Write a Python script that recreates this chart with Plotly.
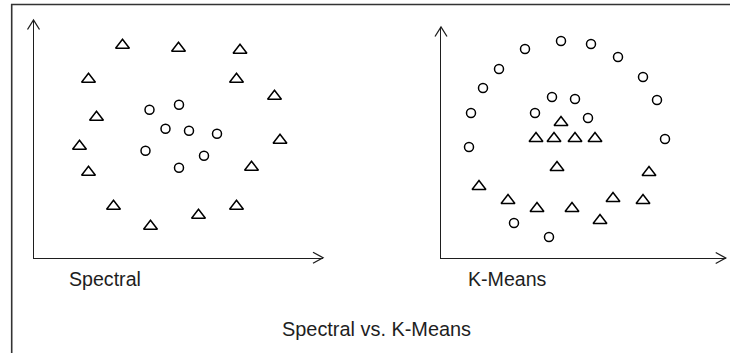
import plotly.graph_objects as go

# ---------------- data ----------------
spectral_tri_x = [89, 145, 206.5, 55, 203, 241, 63, 246.5, 46, 55, 218, 80, 117, 165, 203]
spectral_tri_y = [212.5, 209.5, 207.5, 178.5, 178.5, 161.5, 140.5, 117.5, 111.5, 85.5, 90.5, 51.5, 31.5, 42.5, 51.5]
spectral_circ_x = [116, 145.5, 132, 155.5, 183.5, 112, 170.5, 145.5]
spectral_circ_y = [148, 153, 129, 127, 124, 107, 102, 90]

kmeans_circ_x = [120, 150, 84, 177, 58, 202, 42, 216, 30, 111, 134, 94, 147, 224, 28, 73, 108]
kmeans_circ_y = [217, 214, 209, 201, 189, 181, 170, 158, 145, 161, 159, 145, 140, 119, 111, 35, 21]
kmeans_tri_x = [120, 95, 113, 134, 154, 116, 208, 38, 67, 96, 131, 159, 172, 202]
kmeans_tri_y = [135.5, 119.5, 119.5, 119.5, 119.5, 90.5, 85.5, 71.5, 57.5, 49.5, 49.5, 37.5, 59.5, 57.5]

panel_labels = ["Spectral", "K-Means"]
title_text = "Spectral vs. K-Means"

# ---------------- geometry ----------------
W, H = 730, 353
def fx(x):
    return x / W
def fy(y):
    return 1 - y / H

XL0, XL1, YL_BOT, YL_TOP = 33.5, 323.0, 257.7, 20.0
XR0, XR1, YR_BOT, YR_TOP = 441.0, 725.7, 258.0, 27.0

INK = "#1e1e1e"
FONT = "Liberation Sans, Arial, sans-serif"

fig = go.Figure()

tri = dict(symbol="triangle-up-open", size=12, color="black", line=dict(width=1.5, color="black"))
circ = dict(symbol="circle-open", size=9, color="black", line=dict(width=1.5, color="black"))

fig.add_trace(go.Scatter(x=spectral_tri_x, y=spectral_tri_y, mode="markers", marker=tri,
                         xaxis="x", yaxis="y", showlegend=False, hoverinfo="skip"))
fig.add_trace(go.Scatter(x=spectral_circ_x, y=spectral_circ_y, mode="markers", marker=circ,
                         xaxis="x", yaxis="y", showlegend=False, hoverinfo="skip"))
fig.add_trace(go.Scatter(x=kmeans_circ_x, y=kmeans_circ_y, mode="markers", marker=circ,
                         xaxis="x2", yaxis="y2", showlegend=False, hoverinfo="skip"))
fig.add_trace(go.Scatter(x=kmeans_tri_x, y=kmeans_tri_y, mode="markers", marker=tri,
                         xaxis="x2", yaxis="y2", showlegend=False, hoverinfo="skip"))

ax_common = dict(showgrid=False, zeroline=False, showticklabels=False, ticks="",
                 showline=True, linecolor=INK, linewidth=1.3, fixedrange=True)

fig.update_layout(
    width=W, height=H,
    margin=dict(l=0, r=0, t=0, b=0),
    paper_bgcolor="white", plot_bgcolor="white",
    xaxis=dict(domain=[fx(XL0), fx(XL1)], range=[0, XL1 - XL0], anchor="y", **ax_common),
    yaxis=dict(domain=[fy(YL_BOT), fy(YL_TOP)], range=[0, YL_BOT - YL_TOP], anchor="x", **ax_common),
    xaxis2=dict(domain=[fx(XR0), fx(XR1)], range=[0, XR1 - XR0], anchor="y2", **ax_common),
    yaxis2=dict(domain=[fy(YR_BOT), fy(YR_TOP)], range=[0, YR_BOT - YR_TOP], anchor="x2", **ax_common),
    font=dict(family=FONT, color=INK),
)

shapes = []
# outer frame (left and top edges)
shapes.append(dict(type="path", xref="paper", yref="paper",
                   path=f"M {fx(11.7)},{fy(H + 2)} L {fx(11.7)},{fy(4.5)} L {fx(W + 2)},{fy(4.5)}",
                   line=dict(color="#333333", width=1.6)))

def vhead_up(x, y):
    return f"M {fx(x - 6)},{fy(y + 9.5)} L {fx(x)},{fy(y)} L {fx(x + 6)},{fy(y + 9.5)}"

def vhead_right(x, y):
    return f"M {fx(x - 10)},{fy(y - 5.5)} L {fx(x)},{fy(y)} L {fx(x - 10)},{fy(y + 5.5)}"

for p in [vhead_up(XL0, YL_TOP), vhead_right(XL1, YL_BOT), vhead_up(XR0, YR_TOP), vhead_right(XR1, YR_BOT)]:
    shapes.append(dict(type="path", xref="paper", yref="paper", path=p,
                       line=dict(color=INK, width=1.3)))
fig.update_layout(shapes=shapes)

ann = []
ann.append(dict(text=panel_labels[0], x=fx(66.5), y=fy(279), xref="paper", yref="paper",
                xanchor="left", yanchor="middle", showarrow=False, font=dict(size=19.6, family=FONT, color=INK)))
ann.append(dict(text=panel_labels[1], x=fx(466.5), y=fy(279), xref="paper", yref="paper",
                xanchor="left", yanchor="middle", showarrow=False, font=dict(size=19.6, family=FONT, color=INK)))
ann.append(dict(text=title_text, x=fx(376.5), y=fy(329), xref="paper", yref="paper",
                xanchor="center", yanchor="middle", showarrow=False, font=dict(size=19.9, family=FONT, color=INK)))
fig.update_layout(annotations=ann)

fig.write_html("out.html", config={"displayModeBar": False},
               post_script="document.body.style.margin='0';document.body.style.overflow='hidden';")
